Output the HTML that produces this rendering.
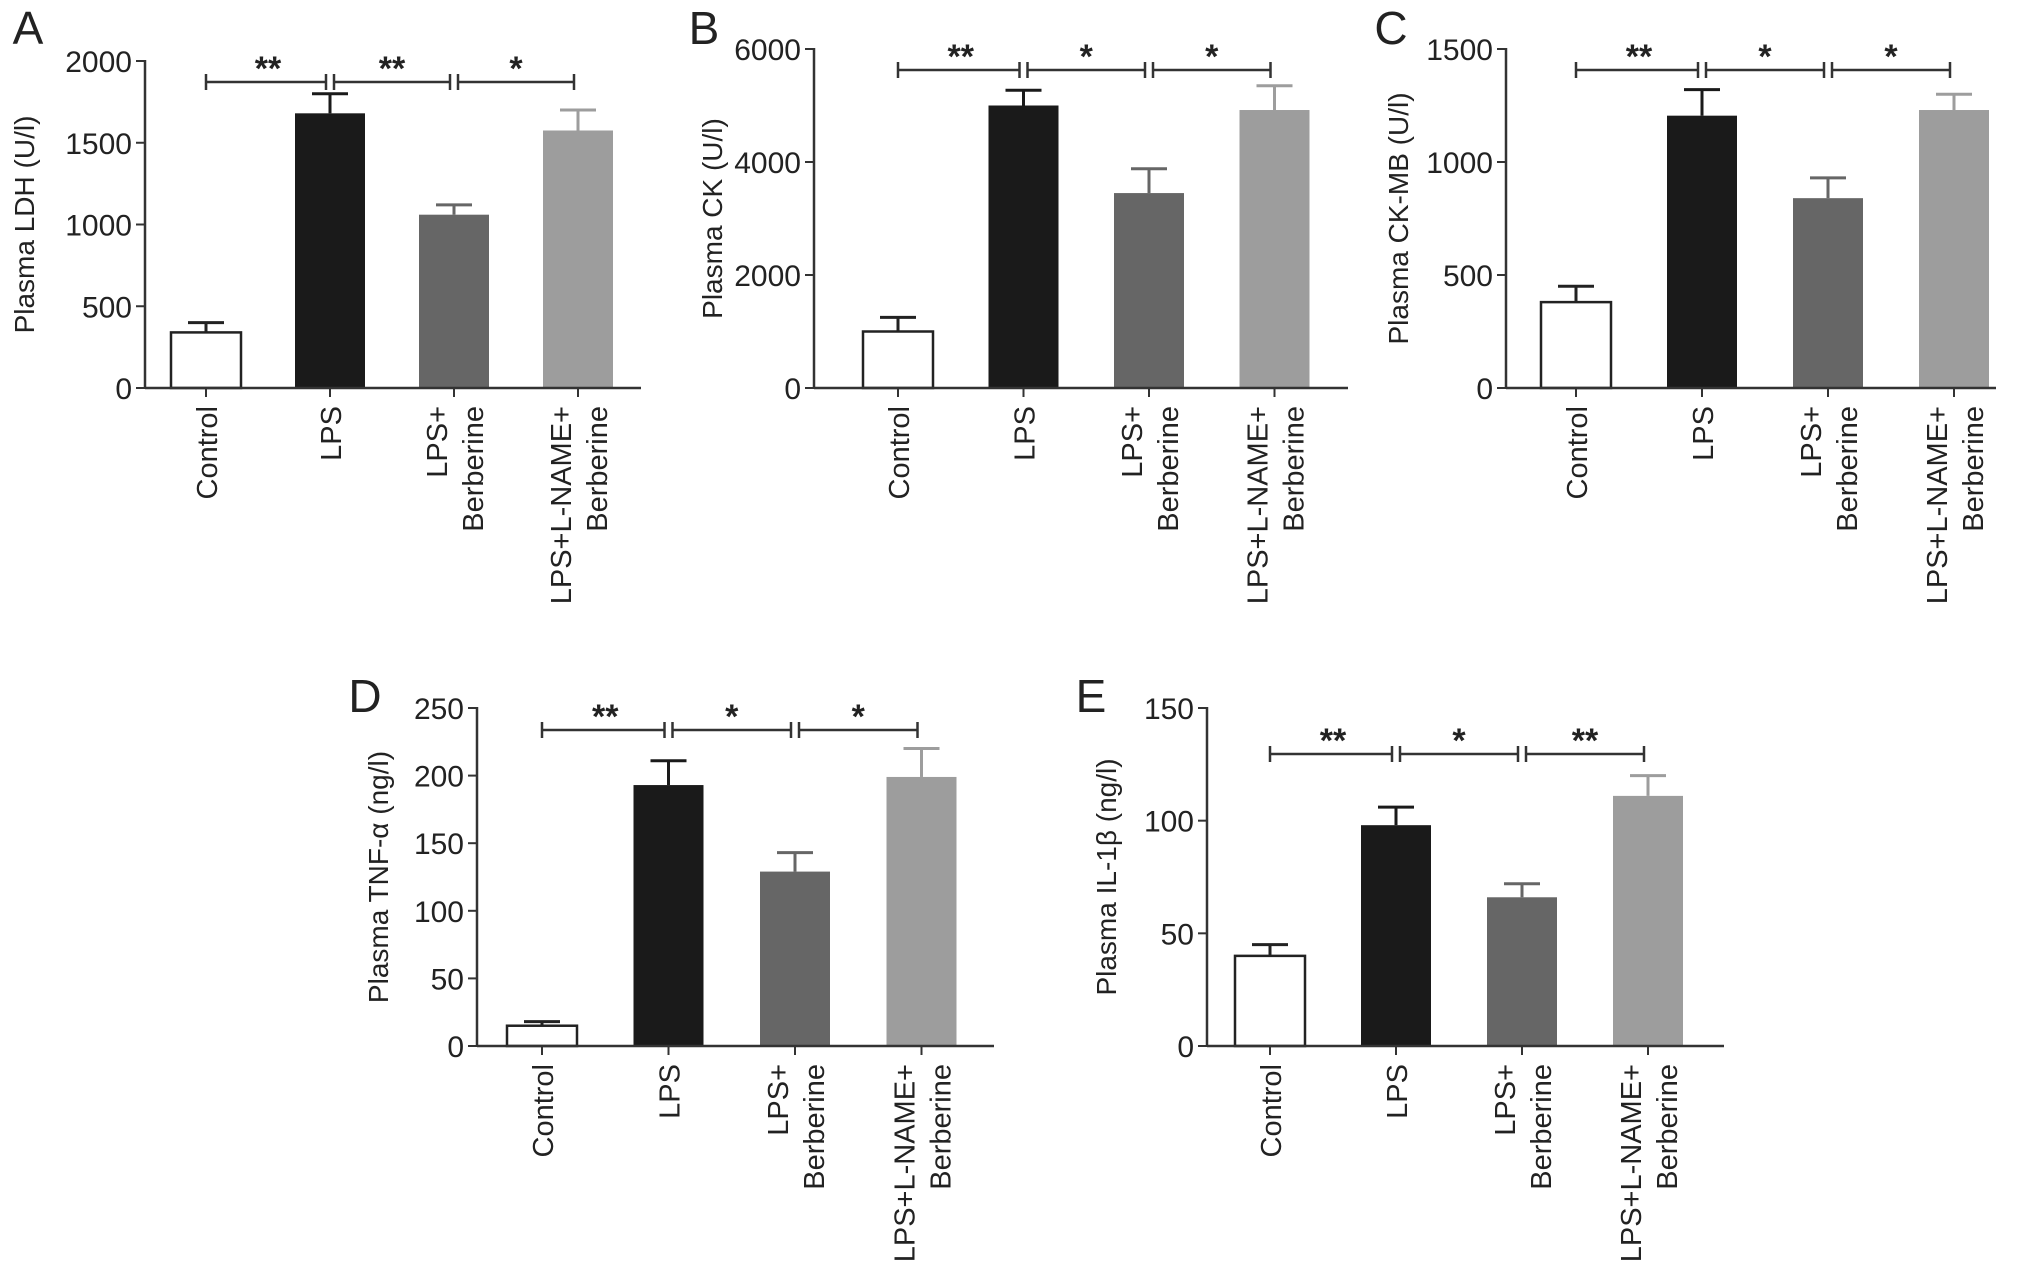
<!DOCTYPE html>
<html><head><meta charset="utf-8"><style>
html,body{margin:0;padding:0;background:#fff}
svg{display:block}
text{font-family:"Liberation Sans",Arial,sans-serif;fill:#222}
</style></head><body>
<svg id="fig" width="2032" height="1276" viewBox="0 0 2032 1276" xmlns="http://www.w3.org/2000/svg"></svg>
<script>
const categories = [["Control"],["LPS"],["LPS+","Berberine"],["LPS+L-NAME+","Berberine"]];
const ldhValues = [340,1680,1060,1575];
const ldhErrors = [60,120,60,125];
const ldhTicks = [0,500,1000,1500,2000];
const ldhSig = ["**","**","*"];
const ckValues = [1000,5000,3450,4920];
const ckErrors = [250,270,430,430];
const ckTicks = [0,2000,4000,6000];
const ckSig = ["**","*","*"];
const ckmbValues = [380,1205,840,1230];
const ckmbErrors = [70,115,90,70];
const ckmbTicks = [0,500,1000,1500];
const ckmbSig = ["**","*","*"];
const tnfValues = [15,193,129,199];
const tnfErrors = [3,18,14,21];
const tnfTicks = [0,50,100,150,200,250];
const tnfSig = ["**","*","*"];
const il1Values = [40,98,66,111];
const il1Errors = [5,8,6,9];
const il1Ticks = [0,50,100,150];
const il1Sig = ["**","*","**"];

const NS="http://www.w3.org/2000/svg";
const svg=document.getElementById('fig');
function mk(tag,attrs,parent){const e=document.createElementNS(NS,tag);for(const k in attrs)e.setAttribute(k,attrs[k]);(parent||svg).appendChild(e);return e;}
const fills=["#fff","#1a1a1a","#666","#9d9d9d"];
const errCol=["#222","#1a1a1a","#666","#9d9d9d"];

function panel(o){
  const g=mk('g',{});
  
  
  const max=o.ticks[o.ticks.length-1];
  const y=v=>o.y0-(o.y0-o.yTop)*v/max;
  const x=i=>o.first+o.step*i;
  const bw=70;
  const L=mk('text',{x:o.lx,y:o.ly,'font-size':46,'text-anchor':'middle'},g);L.textContent=o.letter;
  
  
  o.values.forEach((v,i)=>{
    const cx=x(i);
    const col=errCol[i];
    const eb=mk('g',{},g);
    
    
    mk('line',{x1:cx,x2:cx,y1:y(v),y2:y(v+o.errors[i]),stroke:col,'stroke-width':3},eb);
    mk('line',{x1:cx-18,x2:cx+18,y1:y(v+o.errors[i]),y2:y(v+o.errors[i]),stroke:col,'stroke-width':3},eb);
    const r=mk('rect',{x:cx-bw/2,y:y(v),width:bw,height:o.y0-y(v),fill:fills[i],stroke:i===0?'#222':'none','stroke-width':2.5},g);
    
    
    mk('line',{x1:cx,x2:cx,y1:o.y0,y2:o.y0+9,stroke:'#333','stroke-width':2},g);
    const lines=categories[i];
    lines.forEach((t,j)=>{
      const lx=cx+11+(j-(lines.length-1)/2)*36;
      const tx=mk('text',{x:0,y:0,'font-size':29,'text-anchor':'end',transform:`translate(${lx},${o.y0+18}) rotate(-90)`},g);
      tx.textContent=t;
      
      
    });
  });
  mk('line',{x1:o.ax,x2:o.ax,y1:o.yTop-1,y2:o.y0,stroke:'#333','stroke-width':2.5},g);
  mk('line',{x1:o.ax,x2:o.xEnd,y1:o.y0,y2:o.y0,stroke:'#333','stroke-width':2.5},g);
  o.ticks.forEach(t=>{
    mk('line',{x1:o.ax-9,x2:o.ax,y1:y(t),y2:y(t),stroke:'#333','stroke-width':2},g);
    const tt=mk('text',{x:o.ax-13,y:y(t)+11,'font-size':30,'text-anchor':'end'},g);tt.textContent=t;
    
    
  });
  const yt=mk('text',{x:0,y:0,'font-size':28,'text-anchor':'middle',transform:`translate(${o.tx},${(o.yTop+o.y0)/2}) rotate(-90)`},g);
  yt.textContent=o.title;
  
  
  o.sig.forEach((s,k)=>{
    const a=x(k)+(k?4:0), b=x(k+1)-4;
    const sg=mk('g',{},g);
    
    
    mk('line',{x1:a,x2:b,y1:o.sy,y2:o.sy,stroke:'#333','stroke-width':2.5},sg);
    mk('line',{x1:a,x2:a,y1:o.sy-8,y2:o.sy+8,stroke:'#333','stroke-width':2.5},sg);
    mk('line',{x1:b,x2:b,y1:o.sy-8,y2:o.sy+8,stroke:'#333','stroke-width':2.5},sg);
    const st=mk('text',{x:(x(k)+x(k+1))/2,y:o.sy-2,'font-size':34,'font-weight':'bold','text-anchor':'middle'},sg);st.textContent=s;
  });
}
panel({letter:'A',lx:28,ly:44,ax:145,xEnd:641,first:206,step:124,yTop:61,y0:388,tx:34,title:'Plasma LDH (U/l)',values:ldhValues,errors:ldhErrors,ticks:ldhTicks,sig:ldhSig,sy:82});
panel({letter:'B',lx:704,ly:44,ax:814,xEnd:1348,first:898,step:125.5,yTop:49,y0:388,tx:722,title:'Plasma CK (U/l)',values:ckValues,errors:ckErrors,ticks:ckTicks,sig:ckSig,sy:70});
panel({letter:'C',lx:1391,ly:44,ax:1506,xEnd:1996,first:1576,step:126,yTop:49,y0:388,tx:1408,title:'Plasma CK-MB (U/l)',values:ckmbValues,errors:ckmbErrors,ticks:ckmbTicks,sig:ckmbSig,sy:70});
panel({letter:'D',lx:365,ly:712,ax:477,xEnd:994,first:542,step:126.5,yTop:708,y0:1046,tx:388,title:'Plasma TNF-\u03b1 (ng/l)',values:tnfValues,errors:tnfErrors,ticks:tnfTicks,sig:tnfSig,sy:730});
panel({letter:'E',lx:1091,ly:712,ax:1207,xEnd:1724,first:1270,step:126,yTop:708,y0:1046,tx:1116,title:'Plasma IL-1\u03b2 (ng/l)',values:il1Values,errors:il1Errors,ticks:il1Ticks,sig:il1Sig,sy:754});
</script>
</body></html>
